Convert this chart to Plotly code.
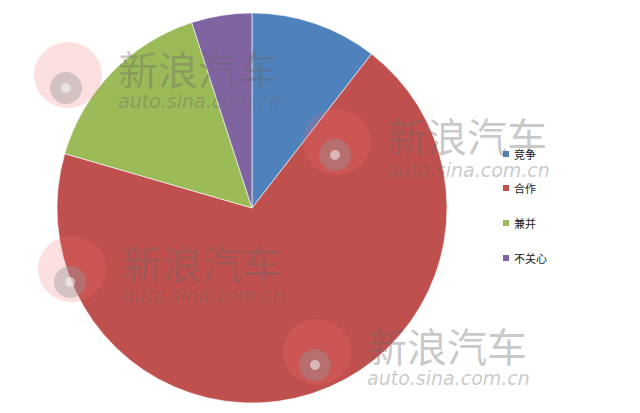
import plotly.graph_objects as go

labels = ["竞争", "合作", "兼并", "不关心"]
values = [10.5, 69.0, 15.5, 5.0]
colors = ["#4F81BD", "#C0504D", "#9BBB59", "#8064A2"]

W, H = 640, 413
OFF = 8  # page body margin compensation
cx, cy, r = 252 - OFF, 208 - OFF, 195


def X(px):
    return px - OFF


def Y(py):
    return H - (py - OFF)


fig = go.Figure(go.Pie(
    labels=labels, values=values, sort=False, direction="clockwise", rotation=0,
    marker=dict(colors=colors, line=dict(color="rgba(255,255,255,0.6)", width=1)),
    textinfo="none", hoverinfo="label+percent", showlegend=False,
    domain=dict(x=[(cx - r) / W, (cx + r) / W], y=[(H - cy - r) / H, (H - cy + r) / H]),
))

# watermarks
marks = [(116, 68, 116, 101), (385, 135, 385, 170), (120, 262, 120, 295), (365, 345, 365, 378)]
for tx, ty, ux, uy in marks:
    lx, ly = tx - 48, ty + 8
    fig.add_shape(type="circle", xref="x", yref="y", x0=X(lx - 34), x1=X(lx + 34),
                  y0=Y(ly + 32), y1=Y(ly - 34),
                  line=dict(width=0), fillcolor="rgba(240,110,110,0.22)", layer="above")
    fig.add_shape(type="circle", xref="x", yref="y", x0=X(lx - 18), x1=X(lx + 14),
                  y0=Y(ly + 28), y1=Y(ly - 4),
                  line=dict(width=0), fillcolor="rgba(150,150,150,0.4)", layer="above")
    fig.add_shape(type="circle", xref="x", yref="y", x0=X(lx - 7), x1=X(lx + 3),
                  y0=Y(ly + 17), y1=Y(ly + 7),
                  line=dict(width=0), fillcolor="rgba(255,255,255,0.5)", layer="above")
    fig.add_annotation(x=X(tx), y=Y(ty), xref="x", yref="y", text="新浪汽车", showarrow=False,
                       xanchor="left", yanchor="middle",
                       font=dict(family="Noto Sans CJK SC", size=40, color="rgba(100,100,100,0.35)"))
    fig.add_annotation(x=X(ux), y=Y(uy), xref="x", yref="y", text="<i>auto.sina.com.cn</i>", showarrow=False,
                       xanchor="left", yanchor="middle",
                       font=dict(family="DejaVu Sans", size=19, color="rgba(100,100,100,0.35)"))

# legend
ys = [154, 188, 223, 258]
for lab, col, y in zip(labels, colors, ys):
    fig.add_shape(type="rect", xref="x", yref="y", x0=X(503), x1=X(509), y0=Y(y + 3), y1=Y(y - 3),
                  fillcolor=col, line=dict(width=0))
    fig.add_annotation(x=X(512), y=Y(y), xref="x", yref="y", text=lab, showarrow=False,
                       xanchor="left", yanchor="middle",
                       font=dict(family="Noto Sans CJK SC", size=11, color="#222"))

fig.update_layout(
    width=W, height=H, margin=dict(l=0, r=0, t=0, b=0),
    paper_bgcolor="white", plot_bgcolor="rgba(0,0,0,0)",
    xaxis=dict(range=[0, W], visible=False, fixedrange=True),
    yaxis=dict(range=[0, H], visible=False, fixedrange=True),
)
fig.write_html("out.html")
